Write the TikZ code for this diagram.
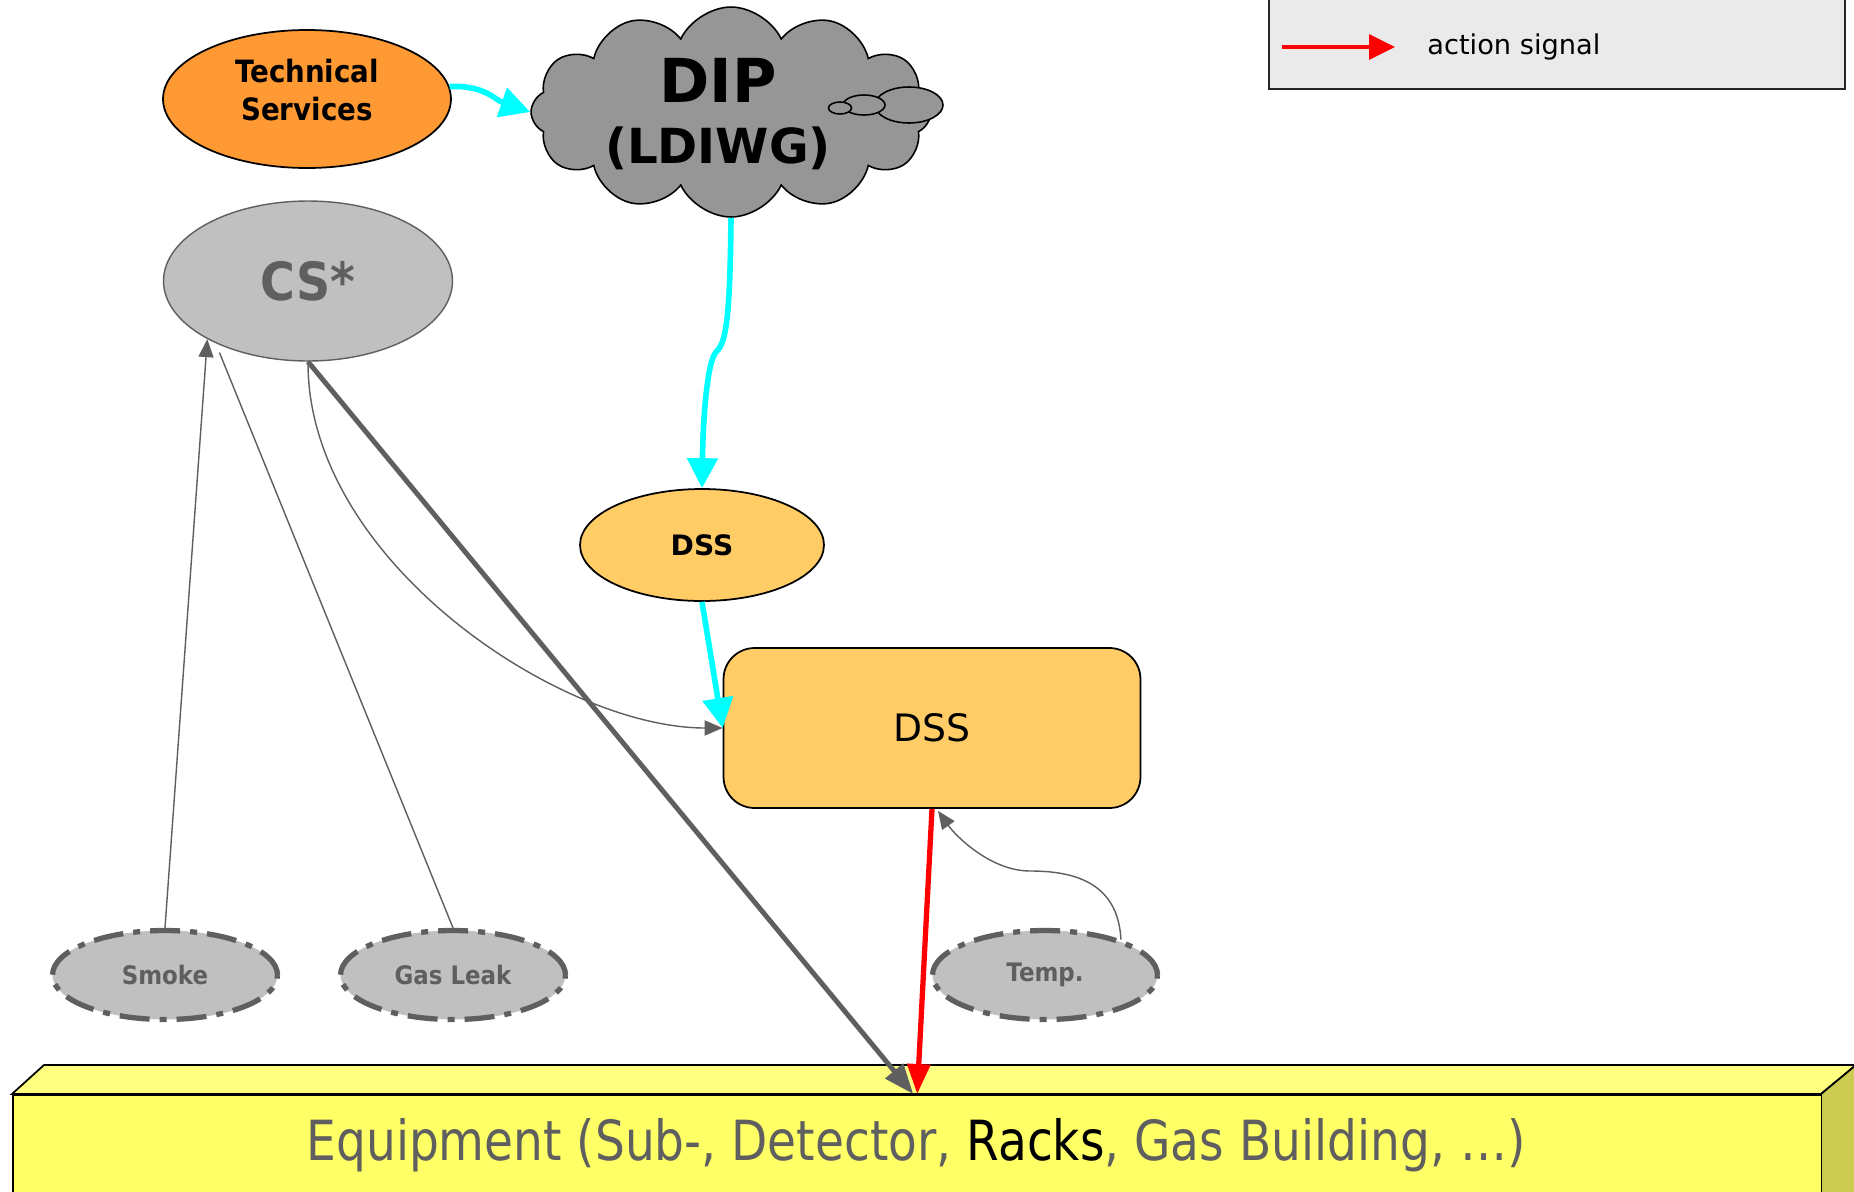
\documentclass[tikz,border=0pt]{standalone}
\usepackage{fontspec}
\setmainfont{DejaVu Sans}
\newfontfamily\eqfont[FakeStretch=0.85]{DejaVu Sans}
\newfontfamily\bcfont[FakeStretch=0.9]{DejaVu Sans}
\usetikzlibrary{shapes.geometric,shapes.symbols,arrows.meta,calc}
\definecolor{tsorange}{HTML}{FF9933}
\definecolor{cloudgray}{HTML}{969696}
\definecolor{lgray}{HTML}{C0C0C0}
\definecolor{dgray}{HTML}{5F5F5F}
\definecolor{dssfill}{HTML}{FFCC66}
\definecolor{eqfront}{HTML}{FFFF66}
\definecolor{eqtop}{HTML}{FFFF80}
\definecolor{eqside}{HTML}{CCCC52}
\definecolor{legfill}{HTML}{EAEAEA}
\definecolor{cyanline}{HTML}{00FFFF}
\begin{document}
\begin{tikzpicture}[x=0.02cm,y=-0.02cm,
  sensor/.style={ellipse, fill=lgray, draw=dgray, line width=3pt,
    dash pattern=on 0.6cm off 0.2cm on 0.14cm off 0.2cm,
    minimum width=4.5cm, minimum height=1.78cm, inner sep=0, text=dgray,
    font=\bcfont\fontsize{14.5}{17}\selectfont\bfseries},
  cyanarrow/.style={draw=cyanline, line width=3.2pt, -{Triangle[length=0.6cm,width=0.6cm]}},
  thinarrow/.style={draw=dgray, line width=0.8pt, -{Triangle[length=0.36cm,width=0.3cm]}},
  thinline/.style={draw=dgray, line width=0.8pt},
  thickarrow/.style={draw=dgray, line width=2.8pt, -{Triangle[length=0.6cm,width=0.45cm]}},
  redarrow/.style={draw=red, line width=3pt, -{Triangle[length=0.6cm,width=0.45cm]}},
  lbl/.style={inner sep=0}]
\clip (0,0) rectangle (1854,1191);
\fill[white] (0,0) rectangle (1854,1191);

% legend
\node[rectangle, draw=black!85, fill=legfill, line width=1pt, minimum width=11.52cm, minimum height=1.88cm, inner sep=0] (legend) at (1557,42) {};
\coordinate (la1) at (1282,47);
\coordinate (la2) at (1395,47);
\draw[draw=red, line width=1.8pt, -{Triangle[length=0.52cm,width=0.5cm]}] (la1) -- (la2);
\node[lbl, anchor=west, font=\fontsize{15.5}{18}\selectfont] (legtxt) at (1427,47) {action signal};

% equipment box
\filldraw[fill=eqtop, draw=black, line width=1pt] (12,1094) -- (44,1065) -- (1856,1065) -- (1821,1094) -- cycle;
\filldraw[fill=eqside, draw=black, line width=1pt] (1821,1094) -- (1856,1065) -- (1856,1250) -- (1821,1250) -- cycle;
\node[rectangle, draw=black, fill=eqfront, line width=1pt, minimum width=36.18cm, minimum height=3.12cm, inner sep=0, anchor=north west] (equip) at (12,1094) {};
\node[lbl, text=dgray, font=\eqfont\fontsize{31.5}{36}\selectfont] (eqtext) at (916,1145) {Equipment (Sub-, Detector, \textcolor{black}{Racks}, Gas Building, …)};

% technical services
\node[ellipse, fill=tsorange, draw=black, line width=1pt, minimum width=5.76cm, minimum height=2.76cm, inner sep=0] (ts) at (307,99) {};
\node[lbl, align=center, font=\bcfont\fontsize{17.5}{22}\selectfont\bfseries] (tstext) at (307,90) {Technical\\Services};

% DIP cloud
\node[cloud, cloud puffs=12, cloud puff arc=130, aspect=1.9, fill=cloudgray, draw=black, line width=0.9pt, minimum width=8.0cm, minimum height=4.2cm, inner sep=0] (dip) at (731,112) {};
\node[ellipse, fill=cloudgray, draw=black, line width=0.9pt, minimum width=1.36cm, minimum height=0.72cm, inner sep=0] (puffL) at (909,105) {};
\node[ellipse, fill=cloudgray, draw=black, line width=0.9pt, minimum width=0.84cm, minimum height=0.4cm, inner sep=0] (puffM) at (864,105) {};
\node[ellipse, fill=cloudgray, draw=black, line width=0.9pt, minimum width=0.46cm, minimum height=0.24cm, inner sep=0] (puffS) at (840,108) {};
\node[lbl, font=\fontsize{34.5}{40}\selectfont\bfseries] (diptext) at (718,80) {DIP};
\node[lbl, font=\fontsize{27.5}{32}\selectfont\bfseries] (ldiwg) at (718,148) {(LDIWG)};

% CS*
\node[ellipse, fill=lgray, draw=dgray, line width=0.8pt, minimum width=5.78cm, minimum height=3.2cm, inner sep=0, text=dgray, font=\bcfont\fontsize{30}{34}\selectfont\bfseries] (cs) at (308,281) {CS*};

% DSS ellipse
\node[ellipse, fill=dssfill, draw=black, line width=1pt, minimum width=4.88cm, minimum height=2.24cm, inner sep=0, font=\fontsize{16}{19}\selectfont\bfseries] (dss) at (702,545) {DSS};

% DSS box
\node[rectangle, rounded corners=0.62cm, fill=dssfill, draw=black, line width=1pt, minimum width=8.34cm, minimum height=3.2cm, inner sep=0, font=\fontsize{21.5}{25}\selectfont] (dssbox) at (932,728) {DSS};

% sensors
\node[sensor] (smoke) at (165,975) {Smoke};
\node[sensor] (gas) at (453,975) {Gas Leak};
\node[sensor] (temp) at (1045,975) {Temp.};

% connectors
\draw[cyanarrow] (ts.5) .. controls (485,85) and (495,100) .. (dip.west);
\draw[cyanarrow] (dip.south) .. controls (730,320) and (726,343) .. (716,352) .. controls (707,362) and (703,420) .. (dss.north);
\draw[cyanarrow] (dss.south) -- (dssbox.west);
\draw[thinarrow] (cs.south) .. controls (307,560) and (560,728) .. (dssbox.west);
\draw[thickarrow] (cs.south) -- ($(equip.north)+(-4,0)$);
\draw[thinarrow] (temp.25) .. controls (1118,880) and (1070,871) .. (1030,871) .. controls (990,871) and (955,835) .. ($(dssbox.south)+(6,2)$);
\draw[redarrow] (dssbox.south) -- (equip.north);
\draw[thinarrow] (smoke.north) -- (cs.210);
\draw[thinline, shorten >=0.2cm] (gas.north) -- (cs.214);
\end{tikzpicture}
\end{document}
